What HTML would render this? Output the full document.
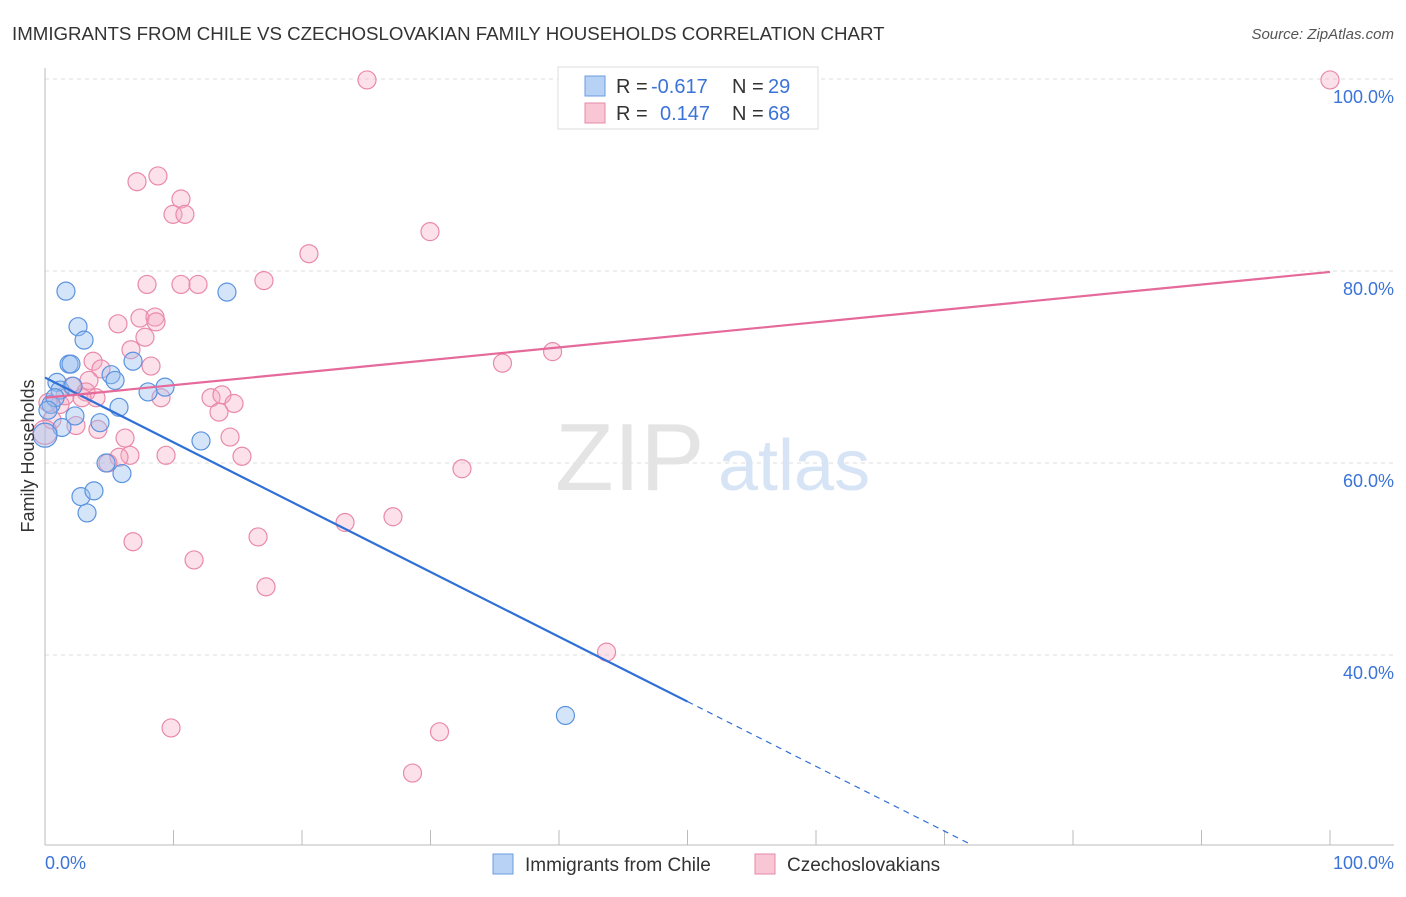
<!DOCTYPE html>
<html><head><meta charset="utf-8"><style>
body{margin:0;background:#fff;font-family:"Liberation Sans",sans-serif}
svg text{font-family:"Liberation Sans",sans-serif}
</style></head><body>
<svg id="chart" width="1406" height="892">
<text x="12" y="40" font-size="18.7" fill="#333">IMMIGRANTS FROM CHILE VS CZECHOSLOVAKIAN FAMILY HOUSEHOLDS CORRELATION CHART</text>
<text x="1394" y="39" font-size="15" fill="#555" text-anchor="end" font-style="italic">Source: ZipAtlas.com</text>
<g id="grid"></g>
<g><text x="555" y="490" font-size="96" fill="#e4e4e4" font-family="Liberation Serif">ZIP</text><text x="718" y="490" font-size="72" fill="#d6e4f5">atlas</text></g>
<g id="marks"></g>
<text transform="translate(34,456) rotate(-90)" font-size="18" fill="#333" text-anchor="middle">Family Households</text>
<text x="45" y="869" font-size="18" fill="#3b73d9">0.0%</text>
<text x="1394" y="869" font-size="18" fill="#3b73d9" text-anchor="end">100.0%</text>
<g>
<rect x="558" y="67" width="260" height="62" fill="#fff" stroke="#ddd"/>
<rect x="585" y="76" width="20" height="20" fill="#b7d2f5" stroke="#6a9be0"/>
<rect x="585" y="103" width="20" height="20" fill="#f9c6d5" stroke="#e78ba8"/>
<text x="616" y="93" font-size="20" fill="#333">R =</text>
<text x="651" y="93" font-size="20" fill="#3b73d9">-0.617</text>
<text x="732" y="93" font-size="20" fill="#333">N =</text>
<text x="768" y="93" font-size="20" fill="#3b73d9">29</text>
<text x="616" y="120" font-size="20" fill="#333">R =</text>
<text x="660" y="120" font-size="20" fill="#3b73d9">0.147</text>
<text x="732" y="120" font-size="20" fill="#333">N =</text>
<text x="768" y="120" font-size="20" fill="#3b73d9">68</text>
</g>
<g>
<rect x="493" y="854" width="20" height="20" fill="#b7d2f5" stroke="#6a9be0"/>
<text x="525" y="871" font-size="19" fill="#333">Immigrants from Chile</text>
<rect x="755" y="854" width="20" height="20" fill="#f9c6d5" stroke="#e78ba8"/>
<text x="787" y="871" font-size="19" fill="#333">Czechoslovakians</text>
</g>
</svg>
<script>
const yTicks=[40,60,80,100];
const yTickLabels=["40.0%","60.0%","80.0%","100.0%"];
const blueX=[1.63,2.57,3.04,1.87,2.02,0.93,5.14,5.45,6.85,8.02,9.34,5.76,4.28,1.32,2.33,0.47,0,2.8,3.81,3.27,4.75,5.99,14.16,12.14,40.5,1.17,2.18,0.78,0.23];
const blueY=[77.9,74.2,72.8,70.3,70.3,68.4,69.2,68.6,70.6,67.4,67.9,65.8,64.2,63.7,64.9,66.1,62.9,56.5,57.1,54.8,60.0,58.9,77.8,62.3,33.7,67.6,68.0,66.8,65.5];
const pinkX=[25.06,100,50,7.16,8.79,10.58,9.96,10.89,29.96,20.54,17.04,7.94,10.58,11.91,5.68,7.39,8.56,8.64,7.78,6.69,3.74,8.25,35.6,39.5,4.36,3.42,2.1,3.19,3.97,9.03,12.92,13.77,14.71,13.54,14.4,6.23,4.12,2.41,0.54,1.17,6.61,5.76,9.42,15.33,4.9,32.45,23.35,27.08,16.58,6.85,11.6,17.2,43.7,9.81,30.7,28.6,0.23,1.56,2.88,0];
const pinkY=[99.9,99.9,100.1,89.3,89.9,87.5,85.9,85.9,84.1,81.8,79.0,78.6,78.6,78.6,74.5,75.1,75.2,74.7,73.1,71.8,70.6,70.1,70.4,71.6,69.8,68.6,68.0,67.4,66.8,66.8,66.8,67.1,66.2,65.3,62.7,62.6,63.5,63.9,64.5,66.1,60.8,60.6,60.8,60.7,60.0,59.4,53.8,54.4,52.3,51.8,49.9,47.1,40.3,32.4,32.0,27.7,66.3,67.0,66.8,63.2];
const blueTrend=[68.9,-0.675];
const pinkTrend=[66.8,0.131];
const X=v=>45+v*12.85, Y=v=>1039-v*9.6;
const ns="http://www.w3.org/2000/svg";
function mk(t,a,p){const e=document.createElementNS(ns,t);for(const k in a)e.setAttribute(k,a[k]);p.appendChild(e);return e;}
const grid=document.getElementById('grid'),marks=document.getElementById('marks');
yTicks.forEach((t,i)=>{
 const l=mk('line',{x1:45,x2:1394,y1:Y(t),y2:Y(t),stroke:'#ddd','stroke-dasharray':'4 4'},grid);
 
 
 const tx=mk('text',{x:1394,y:Y(t)+24,'font-size':18,fill:'#3b73d9','text-anchor':'end'},grid);
 tx.textContent=yTickLabels[i];
 
 
});
mk('line',{x1:45,x2:45,y1:68,y2:845,stroke:'#bbb'},grid);
mk('line',{x1:45,x2:1394,y1:845,y2:845,stroke:'#bbb'},grid);
for(let i=0;i<=10;i++){const t=mk('line',{x1:X(i*10),x2:X(i*10),y1:830,y2:845,stroke:'#bbb'},grid);}
pinkX.forEach((x,i)=>{const c=mk('circle',{cx:X(x),cy:Y(pinkY[i]),r:(i==pinkX.length-1)?12:9,fill:'rgba(246,170,195,0.35)',stroke:'#e98aa9','stroke-width':1.2},marks);
 });
blueX.forEach((x,i)=>{const c=mk('circle',{cx:X(x),cy:Y(blueY[i]),r:x===0?12:9,fill:'rgba(150,190,240,0.4)',stroke:'#5b93df','stroke-width':1.2},marks);
 });
const bt=v=>blueTrend[0]+blueTrend[1]*v, pt=v=>pinkTrend[0]+pinkTrend[1]*v;
let l=mk('line',{x1:X(0),y1:Y(bt(0)),x2:X(50),y2:Y(bt(50)),stroke:'#2f6fd6','stroke-width':2.2},marks);

const xe=(20.2-blueTrend[0])/blueTrend[1];
l=mk('line',{x1:X(50),y1:Y(bt(50)),x2:X(xe),y2:Y(bt(xe)),stroke:'#2f6fd6','stroke-width':1.2,'stroke-dasharray':'6 5'},marks);

l=mk('line',{x1:X(0),y1:Y(pt(0)),x2:X(100),y2:Y(pt(100)),stroke:'#e5699a','stroke-width':2.2},marks);

</script>
</body></html>
